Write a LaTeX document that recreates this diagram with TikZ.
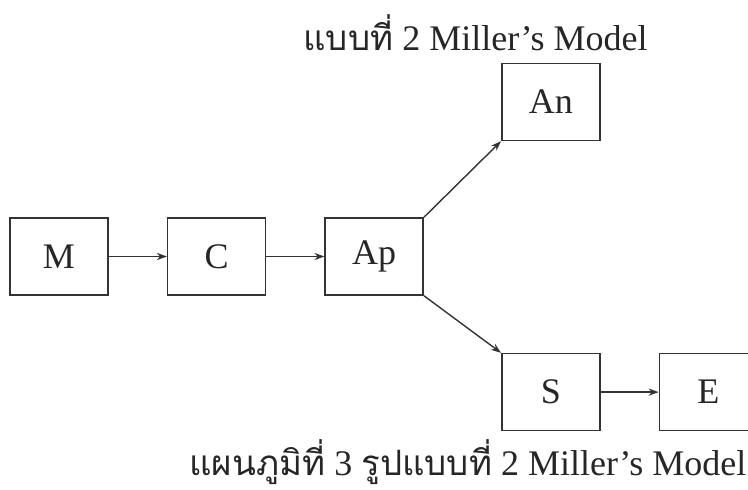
\documentclass[tikz,border=0pt]{standalone}
\usepackage{fontspec}
\setmainfont{Liberation Serif}
\newfontfamily\thaifont[Script=Thai,Scale=0.97]{Loma}
\usepackage{tikz}
\usetikzlibrary{arrows,arrows.meta,positioning}
\tikzset{
  box/.style={
    draw=black!80,
    rectangle,
    minimum width=49pt,
    minimum height=38.5pt,
    inner sep=0pt,
    line width=0.8pt,
    text=black!85,
    font=\fontsize{18}{21}\selectfont
  },
  caption/.style={
    anchor=base west,
    inner sep=0pt,
    text=black!85,
    font=\fontsize{18}{21}\selectfont
  }
}

\begin{document}
\begin{tikzpicture}[x=0.5pt, y=-0.5pt, node distance=29pt, >={Stealth[length=5pt,width=3.6pt]}]
   \useasboundingbox (0,0) rectangle (748,489);
   \node[caption] (title) at (303,50) {{\thaifont แบบที่} 2 Miller’s Model};
   \node[box] (m) at (59,256.5) {M};
   \node[box] (c) [right=of m] {C};
   \node[box] (ap) [right=of c] {Ap};
   \node[box] (an) [above right=38pt and 38.5pt of ap] {An};
   \node[box] (s) [below right=28.5pt and 38.5pt of ap] {S};
   \node[box] (e) [right=of s] {E};
   \node[caption] (cap) at (189,475) {{\thaifont แผนภูมิที่} 3 {\thaifont รูปแบบที่} 2 Miller’s Model};

\path[->, black!80, line width=0.7pt]
          (m) edge (c)
          (c) edge (ap)
          (ap.north east) edge (an.south west)
          (ap.south east) edge (s.north west)
          (s) edge (e)
;
\end{tikzpicture}
\end{document}
